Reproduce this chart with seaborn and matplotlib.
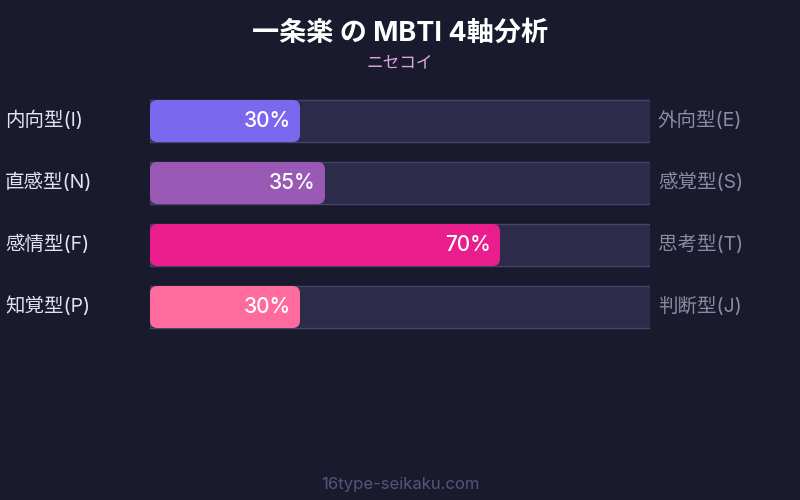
import matplotlib
matplotlib.use("Agg")
import matplotlib.pyplot as plt
import seaborn as sns
import pandas as pd
from matplotlib.patches import FancyBboxPatch

# ---- data ----
title = "一条楽 の MBTI 4軸分析"
subtitle = "ニセコイ"
footer = "16type-seikaku.com"
left_labels = ["内向型(I)", "直感型(N)", "感情型(F)", "知覚型(P)"]
right_labels = ["外向型(E)", "感覚型(S)", "思考型(T)", "判断型(J)"]
values = [30, 35, 70, 30]
bar_colors = ["#7b68ee", "#9b59b6", "#e91e8c", "#ff6b9d"]
scale_max = 100

BG = "#1a1a2e"
TRACK = "#2d2b4a"
TRACK_EDGE = "#45436a"

sns.set_theme(style="white")
plt.rcParams['font.family'] = ['Inter', 'Noto Sans CJK JP', 'DejaVu Sans']

fig = plt.figure(figsize=(8, 5), dpi=100, facecolor=BG)
ax = fig.add_axes([150/800, 1-338/500, 500/800, 248/500])
ax.set_facecolor(BG)

df = pd.DataFrame({"axis": left_labels, "value": values,
                   "track": [scale_max]*len(values)})

bw = 42/62
# track
sns.barplot(data=df, x="track", y="axis", orient="h", color=TRACK,
            width=bw, ax=ax, edgecolor=TRACK_EDGE, linewidth=1, saturation=1)
n_track = len(ax.patches)
sns.barplot(data=df, x="value", y="axis", orient="h", hue="axis",
            palette=bar_colors, width=bw, ax=ax, legend=False, saturation=1,
            linewidth=0)

dy = -0.04
# replace filled bars with rounded ones
patches = list(ax.patches)[n_track:]
for p in patches:
    x0, y0 = p.get_x(), p.get_y()
    w, h = p.get_width(), p.get_height()
    fc = p.get_facecolor()
    p.remove()
    fb = FancyBboxPatch((x0, y0), w, h,
                        boxstyle="round,pad=0,rounding_size=1.5",
                        mutation_aspect=5/62, facecolor=fc, edgecolor="none",
                        zorder=3)
    ax.add_patch(fb)
    ax.text(x0 + w - 1.8, y0 + h/2 + dy, f"{int(w)}%", ha="right",
            va="center_baseline", color="white", fontsize=15,
            fontweight="medium", zorder=4)

ax.set_xlim(0, scale_max)
ax.set_ylim(len(values) - 0.5, -0.5)
ax.set_xlabel("")
ax.set_ylabel("")
ax.set_xticks([])
ax.set_yticks([])
for s in ax.spines.values():
    s.set_visible(False)

for i, (l, r) in enumerate(zip(left_labels, right_labels)):
    ax.text(-29, i + dy, l, ha="left", va="center_baseline", color="#e2e2f0",
            fontsize=14, clip_on=False)
    ax.text(101.6, i + dy, r, ha="left", va="center_baseline", color="#8a8aa2",
            fontsize=14, clip_on=False)

fig.text(0.5, 1-34/500, title, ha="center", va="center", color="white",
         fontsize=19.5, fontweight="bold")
fig.text(0.5, 1-63/500, subtitle, ha="center", va="center", color="#e0a8e0",
         fontsize=12)
fig.text(0.5, 1-484/500, footer, ha="center", va="center", color="#55557a",
         fontsize=12)

fig.savefig("out.png", dpi=100, facecolor=BG)
